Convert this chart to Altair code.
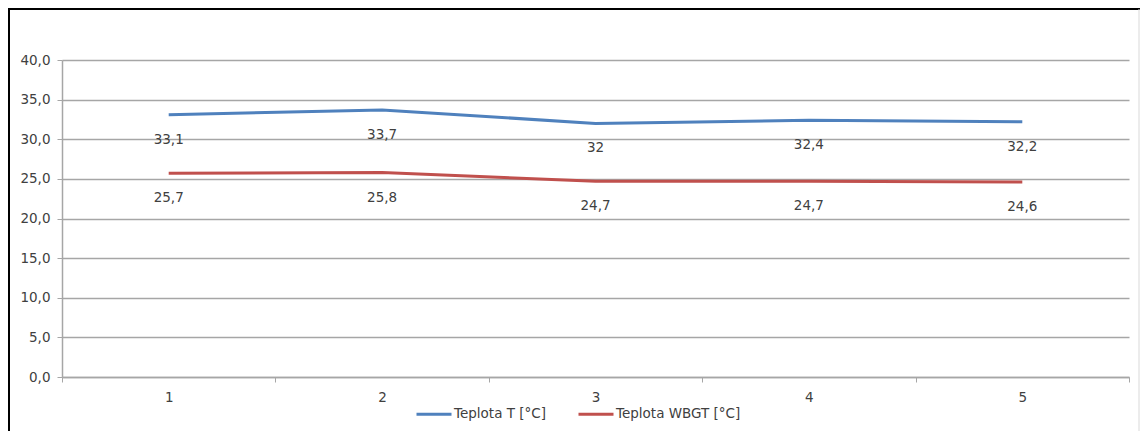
import altair as alt
import pandas as pd

days = ["1", "2", "3", "4", "5"]
temp_t = [33.1, 33.7, 32.0, 32.4, 32.2]
temp_wbgt = [25.7, 25.8, 24.7, 24.7, 24.6]
series_names = ["Teplota T [°C]", "Teplota WBGT [°C]"]
series_colors = ["#4F81BD", "#C0504D"]
y_ticks = [0, 5, 10, 15, 20, 25, 30, 35, 40]

rows = []
for name, vals in zip(series_names, [temp_t, temp_wbgt]):
    for d, v in zip(days, vals):
        rows.append({"day": d, "value": v, "series": name,
                     "label": f"{v:g}".replace(".", ",")})
df = pd.DataFrame(rows)

W, H = 1067, 317
PL, PT, PR, PB = 54, 52, 11, 54
FONT = "DejaVu Sans"
FS = 13.5
GRID = "#A6A6A6"
TXT = "#404040"

x_enc = alt.X("day:N", sort=days, title=None,
              scale=alt.Scale(type="band", paddingInner=0, paddingOuter=0),
              axis=alt.Axis(labelAngle=0, tickBand="extent", grid=False,
                            domainColor=GRID, domainWidth=1.5, tickColor=GRID,
                            tickWidth=1, tickSize=5, labelPadding=8,
                            labelFont=FONT, labelFontSize=FS, labelColor=TXT))
y_enc = alt.Y("value:Q", title=None,
              scale=alt.Scale(domain=[0, 40], nice=False),
              axis=alt.Axis(values=y_ticks, grid=True, gridColor=GRID, gridWidth=1.5,
                            domainColor=GRID, domainWidth=1.5, tickColor=GRID,
                            tickSize=5, labelPadding=7, labelFont=FONT,
                            labelFontSize=FS, labelColor=TXT, labelOverlap=False,
                            labelExpr="replace(format(datum.value, '.1f'), '.', ',')"))
color_enc = alt.Color("series:N", sort=series_names,
                      scale=alt.Scale(domain=series_names, range=series_colors),
                      legend=alt.Legend(orient="none", legendX=353, legendY=335,
                                        direction="horizontal", title=None,
                                        symbolType="stroke", symbolStrokeWidth=3,
                                        symbolSize=1225, labelFont=FONT,
                                        labelFontSize=FS, labelColor=TXT,
                                        columnPadding=26, labelOffset=1))

lines = alt.Chart(df).mark_line(strokeWidth=3).encode(
    x=x_enc, y=y_enc, color=color_enc, detail="series:N")
labels = alt.Chart(df).mark_text(dy=25, font=FONT, fontSize=FS, color=TXT).encode(
    x=x_enc, y=y_enc, text="label:N", detail="series:N")

frame_data = alt.Data(values=[{}])
left_border = alt.Chart(frame_data).mark_rule(color="#000000", strokeWidth=2).encode(
    x=alt.value(-PL + 1), y=alt.value(-PT + 1), y2=alt.value(H + PB))
top_border = alt.Chart(frame_data).mark_rule(color="#000000", strokeWidth=2).encode(
    y=alt.value(-PT + 1), x=alt.value(-PL), x2=alt.value(W + PR))
right_border = alt.Chart(frame_data).mark_rule(color="#D9D9D9", strokeWidth=1).encode(
    x=alt.value(W + PR - 1), y=alt.value(-PT + 1), y2=alt.value(H + PB))

chart = alt.layer(lines, labels, left_border, top_border, right_border).properties(
    width=W, height=H,
    padding={"left": PL, "top": PT, "right": PR, "bottom": PB},
    autosize=alt.AutoSizeParams(type="none"),
    background="white",
).configure_view(stroke=None)

chart.save("out.html", embed_options={"renderer": "svg", "actions": False})
